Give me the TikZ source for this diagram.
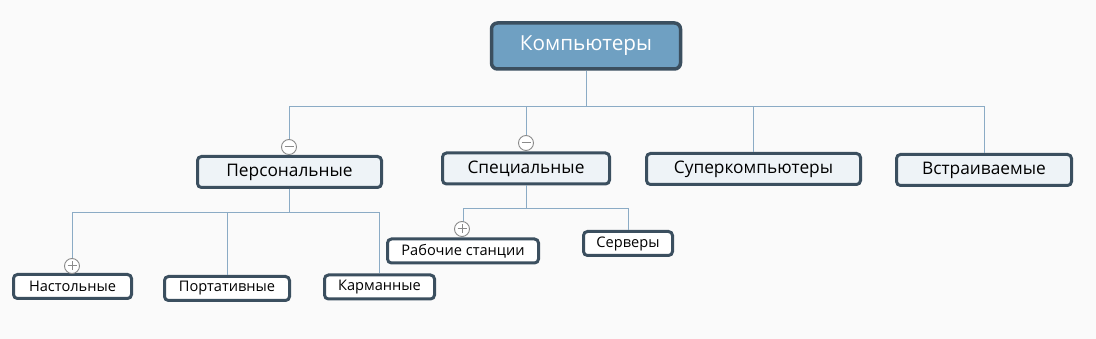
\documentclass[tikz,border=0pt]{standalone}
\usepackage{fontspec}
\setmainfont{Open Sans}
\usetikzlibrary{positioning}
\definecolor{cBg}{HTML}{FAFAFA}
\definecolor{cRoot}{HTML}{6FA0C2}
\definecolor{cEdge}{HTML}{3B4F5F}
\definecolor{cLight}{HTML}{EEF3F7}
\definecolor{cLink}{HTML}{8BABC5}
\definecolor{cMark}{HTML}{8A8A8A}

\begin{document}
\begin{tikzpicture}[
  x=1pt, y=-1pt,
  root/.style={draw=cEdge, fill=cRoot, text=white, rounded corners=6pt, line width=3.5pt,
               font=\fontsize{20.7}{24}\selectfont, minimum height=46pt, minimum width=189pt},
  topic/.style={draw=cEdge, fill=cLight, text=black, rounded corners=4pt, line width=3pt,
                font=\fontsize{17.3}{20}\selectfont, minimum height=31pt, inner sep=1pt},
  sub/.style={topic, fill=white, font=\fontsize{14.6}{17}\selectfont, minimum height=24pt},
  link/.style={draw=cLink, line width=1pt},
  fold/.style={circle, draw=cMark, fill=white, line width=0.9pt, minimum size=15pt, inner sep=0pt},
  minus/.style={fold, path picture={
      \draw[cMark, line width=1pt] ([xshift=3pt]path picture bounding box.west)
        -- ([xshift=-3pt]path picture bounding box.east);}},
  plus/.style={fold, path picture={
      \draw[cMark, line width=1pt] ([xshift=3pt]path picture bounding box.west)
        -- ([xshift=-3pt]path picture bounding box.east);
      \draw[cMark, line width=1pt] ([yshift=-3pt]path picture bounding box.north)
        -- ([yshift=3pt]path picture bounding box.south);}},
]
\fill[cBg] (0,0) rectangle (1096,339);

% main topic
\node[root] (comp) at (586,46) {Компьютеры};

% first level
\node[topic, minimum width=184pt] (pers) at (289.5,172) {Персональные};
\node[topic, minimum width=167pt] (spec) at (526,168.5) {Специальные};
\node[topic, minimum width=214pt] (super) at (753.5,169) {Суперкомпьютеры};
\node[topic, minimum width=175pt] (embd) at (984,170) {Встраиваемые};

% second level
\node[sub, minimum width=118pt] (desk) at (72.5,286.5) {Настольные};
\node[sub, minimum width=125pt] (port) at (227,288.5) {Портативные};
\node[sub, minimum width=110pt] (pock) at (379.5,287) {Карманные};
\node[sub, minimum width=151pt] (work) at (463,251) {Рабочие станции};
\node[sub, minimum width=89pt] (serv) at (628,243.5) {Серверы};

\foreach \c in {pers,spec,super,embd}
  \draw[link] (comp.south) -- ++(0,36) -| (\c.north);
\foreach \c in {desk,port,pock}
  \draw[link] (pers.south) -- ++(0,24) -| (\c.north);
\foreach \c in {work,serv}
  \draw[link] (spec.south) -- ++(0,23.5) -| (\c.north);

% fold markers
\node[minus] (mpers) at (289,147) {};
\node[minus] (mspec) at (526,143) {};
\node[plus] (pdesk) at (72,266) {};
\node[plus] (pwork) at (462,229) {};
\end{tikzpicture}
\end{document}
